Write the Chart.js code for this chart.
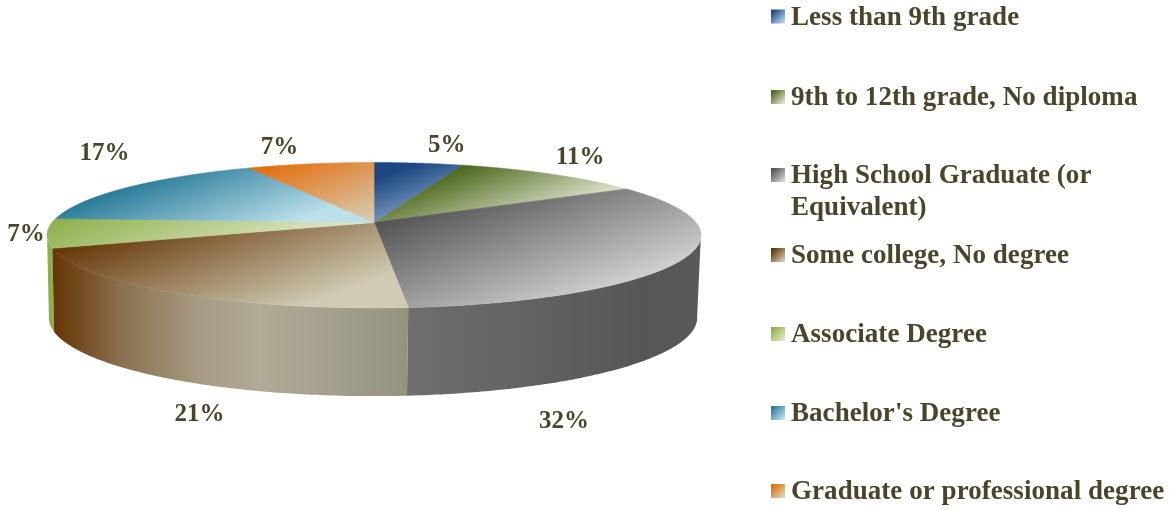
<!DOCTYPE html>
<html><head><meta charset="utf-8">
<style>html,body{margin:0;padding:0;background:#fff}canvas{display:block}</style>
<script src="https://cdn.jsdelivr.net/npm/chart.js@4"></script>
</head><body>
<canvas id="c" width="1170" height="510"></canvas>
<script>
const categories = ["Less than 9th grade","9th to 12th grade, No diploma","High School Graduate (or Equivalent)","Some college, No degree","Associate Degree","Bachelor's Degree","Graduate or professional degree"];
const shares = [5.2, 11.1, 32.3, 20.8, 6.5, 16.7, 7.4];
const legendLines = [["Less than 9th grade"],["9th to 12th grade, No diploma"],["High School Graduate (or","Equivalent)"],["Some college, No degree"],["Associate Degree"],["Bachelor's Degree"],["Graduate or professional degree"]];
const darkColors = ["#1c4780","#4d681c","#545454","#653505","#8eb04c","#2c7d9a","#e46c0a"];
const lightColors = ["#bcd2ec","#dde3cd","#d2d2d2","#cfcbb4","#e0e7ca","#bbe0ea","#d6d2bc"];
const darkAt = [0.25,0,0,0,0,0,0];
const lightAt = [1.6,0.95,1,0.78,0.95,0.75,1];

const INK = "#4a452a";
const top3d = {cx:374, y0:222.5, rx:322, ry:70.5, q:0.175};
const bot3d = {cx:373, y0:304, rx:319.2, ry:76, q:0.175};
function project(p, theta){
  const u = Math.sin(theta), v = -Math.cos(theta), w = 1 - p.q*v;
  return [p.cx + p.rx*u/w, p.y0 + p.ry*v/w];
}
const wallStops = {
  2:[[409,"#6e6e6e"],[480,"#676767"],[560,"#5f5f5f"],[640,"#565656"],[700,"#595959"]],
  3:[[50,"#643403"],[72,"#6f4418"],[120,"#8a6f4e"],[200,"#a79b83"],[260,"#b0aa96"],[330,"#a3a08d"],[409,"#95927f"]],
  4:[[45,"#8eb04c"],[55,"#8eb04c"]]
};
const labelNudge = [[28,-11],[29,-10],[-122,171],[28,129],[-21,8],[-24,-27],[-31,-10]];
const legendBase = [24.5,105,183,263,342,421,499];
const NX=0.35, NY=0.94;

function sweep(p,a,b,n){const out=[];for(let i=0;i<=n;i++)out.push(project(p,a+(b-a)*i/n));return out;}
function path(ctx,pts){ctx.beginPath();pts.forEach((q,i)=>i?ctx.lineTo(q[0],q[1]):ctx.moveTo(q[0],q[1]));ctx.closePath();}

const pie3d = {
  id:'pie3d',
  beforeDatasetDraw(chart,args){
    const ctx = chart.ctx, arcs = chart.getDatasetMeta(args.index).data;
    const wallFrom = Math.PI/2 + Math.asin(top3d.q), wallTo = 2*Math.PI - wallFrom;
    const range = arcs.map(a=>[a.startAngle+Math.PI/2, a.endAngle+Math.PI/2]);
    ctx.save();
    [4,3,2].forEach(i=>{
      const a=Math.max(range[i][0],wallFrom-0.02), b=Math.min(range[i][1],wallTo+0.02);
      if(b<=a) return;
      const pts = sweep(top3d,a,b,120).concat(sweep(bot3d,a,b,120).reverse());
      const st = wallStops[i], x0=st[0][0], x1=st[st.length-1][0];
      const g = ctx.createLinearGradient(x0,0,x1,0);
      st.forEach(s=>g.addColorStop((s[0]-x0)/(x1-x0),s[1]));
      path(ctx,pts); ctx.fillStyle=g; ctx.fill();
    });
    range.forEach((r,i)=>{
      const pts = [[top3d.cx,top3d.y0]].concat(sweep(top3d,r[0],r[1],160));
      const dots = pts.map(q=>q[0]*NX+q[1]*NY);
      const tmin=Math.min(...dots), span=Math.max(...dots)-tmin;
      const t0=tmin+darkAt[i]*span, t1=tmin+lightAt[i]*span;
      const g=ctx.createLinearGradient(t0*NX,t0*NY,t1*NX,t1*NY);
      g.addColorStop(0,darkColors[i]);g.addColorStop(1,lightColors[i]);
      path(ctx,pts); ctx.fillStyle=g; ctx.fill();
      ctx.strokeStyle=g; ctx.lineWidth=0.6; ctx.stroke();
    });
    ctx.restore();
    return false;
  },
  afterDraw(chart){
    const ctx=chart.ctx, arcs=chart.getDatasetMeta(0).data;
    ctx.save();
    ctx.fillStyle=INK; ctx.textBaseline='alphabetic';
    ctx.font="bold 25px 'Liberation Serif'";
    ctx.textAlign='center';
    arcs.forEach((a,i)=>{
      const m=(a.startAngle+a.endAngle)/2+Math.PI/2, p=project(top3d,m);
      ctx.fillText(Math.round(shares[i])+'%',p[0]+labelNudge[i][0],p[1]+labelNudge[i][1]);
    });
    ctx.textAlign='left';
    ctx.font="bold 27px 'Liberation Serif'";
    ctx.letterSpacing="0.05px";
    legendLines.forEach((lines,i)=>{
      const b=legendBase[i], sy=b-15, g=ctx.createLinearGradient(771,sy,785,sy+14);
      g.addColorStop(0,darkColors[i]);g.addColorStop(0.12,darkColors[i]);
      g.addColorStop(0.9,lightColors[i]);g.addColorStop(1,lightColors[i]);
      ctx.fillStyle=g; ctx.fillRect(771,sy,14,14);
      ctx.fillStyle=INK;
      lines.forEach((t,j)=>ctx.fillText(t,791,b+j*32));
    });
    ctx.restore();
  }
};
new Chart(document.getElementById('c'),{
  type:'pie',
  data:{labels:categories,datasets:[{data:shares,backgroundColor:darkColors,borderWidth:0}]},
  options:{responsive:false,animation:false,plugins:{legend:{display:false},tooltip:{enabled:false}}},
  plugins:[pie3d]
});
</script>
</body></html>
